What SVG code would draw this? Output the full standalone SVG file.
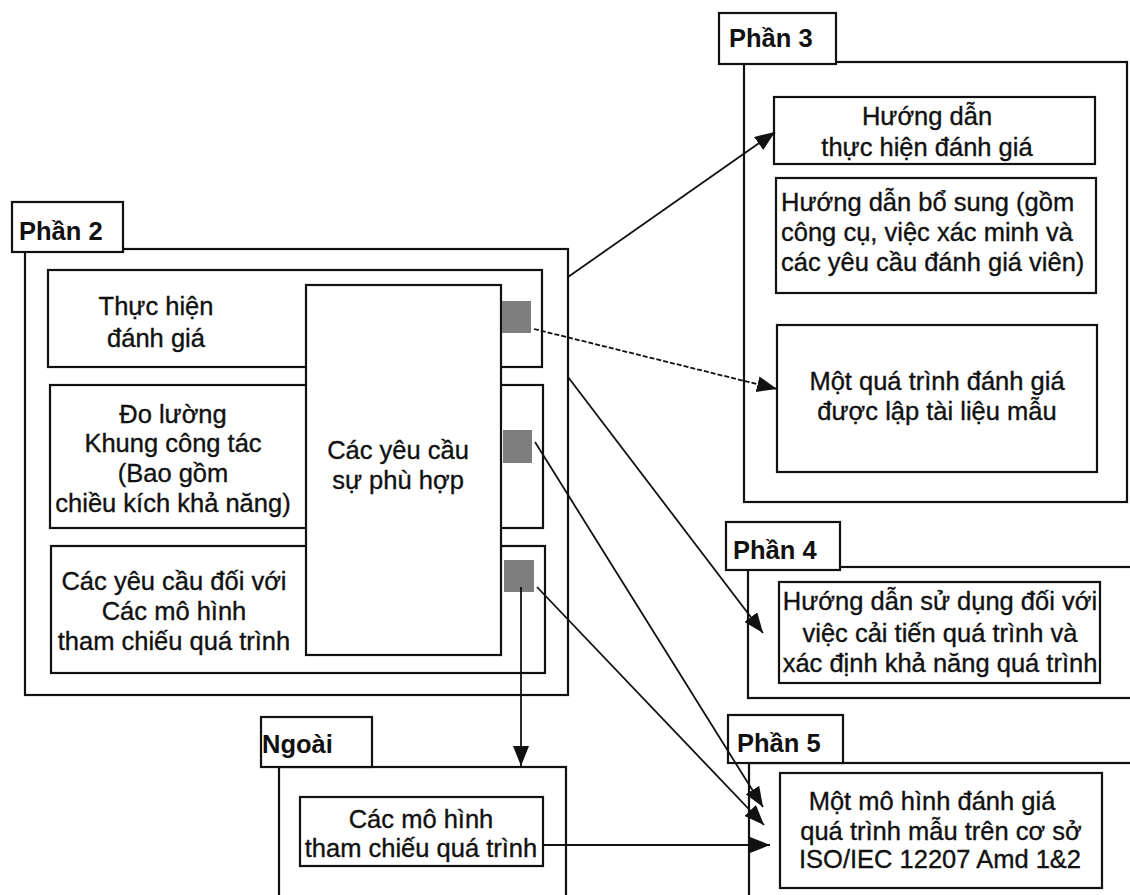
<svg xmlns="http://www.w3.org/2000/svg" width="1130" height="895" viewBox="0 0 1130 895">
<defs>
<style>
.box{fill:#fff;stroke:#111;stroke-width:2.2}
.tab{fill:#fff;stroke:#111;stroke-width:2.2}
.sq{fill:#7e7e7e;stroke:none}
.t{font-family:"Liberation Sans",Arial,sans-serif;font-size:25.5px;fill:#111;stroke:#111;stroke-width:0.35;text-anchor:middle}
.tl{font-family:"Liberation Sans",Arial,sans-serif;font-size:25.5px;fill:#111;stroke:#111;stroke-width:0.35}
.h{font-family:"Liberation Sans",Arial,sans-serif;font-size:25.5px;font-weight:bold;fill:#111}
.c{fill:none;stroke:#111;stroke-width:1.8}
.d{fill:none;stroke:#111;stroke-width:1.8;stroke-dasharray:5 2}
</style>
<marker id="ah" markerUnits="userSpaceOnUse" markerWidth="21" markerHeight="16" refX="20" refY="8" orient="auto">
<path d="M0,0 L20,8 L0,16 z" fill="#111"/>
</marker>
</defs>
<rect width="1130" height="895" fill="#fff"/>

<g id="phan2">
<rect class="box" x="25" y="249" width="543" height="446"/>
<rect class="tab" x="12" y="202" width="111" height="50"/>
<text class="h" x="19" y="240">Phần 2</text>
</g>
<g id="thuc-hien">
<rect class="box" x="48" y="270" width="494" height="97"/>
<text class="t" x="156" y="315">Thực hiện</text>
<text class="t" x="156" y="347">đánh giá</text>
</g>
<g id="do-luong">
<rect class="box" x="50" y="385" width="493" height="143"/>
<text class="t" x="173" y="423">Đo lường</text>
<text class="t" x="173" y="452">Khung công tác</text>
<text class="t" x="173" y="482">(Bao gồm</text>
<text class="t" x="173" y="512">chiều kích khả năng)</text>
</g>
<g id="yeu-cau-mo-hinh">
<rect class="box" x="51" y="546" width="494" height="127"/>
<text class="t" x="174" y="590">Các yêu cầu đối với</text>
<text class="t" x="174" y="620">Các mô hình</text>
<text class="t" x="174" y="650">tham chiếu quá trình</text>
</g>
<g id="phu-hop">
<rect class="box" x="306" y="285" width="195" height="370"/>
<text class="t" x="398" y="459">Các yêu cầu</text>
<text class="t" x="398" y="489">sự phù hợp</text>
</g>
<g id="squares">
<rect class="sq" x="502" y="301" width="29" height="32"/>
<rect class="sq" x="503" y="430" width="29" height="33"/>
<rect class="sq" x="504" y="560" width="30" height="32"/>
</g>

<g id="phan3">
<rect class="box" x="744" y="62" width="383" height="440"/>
<rect class="tab" x="719" y="13" width="117" height="51"/>
<text class="h" x="729" y="47">Phần 3</text>
</g>
<g id="huong-dan-thuc-hien">
<rect class="box" x="774" y="97" width="321" height="67"/>
<text class="t" x="927" y="125">Hướng dẫn</text>
<text class="t" x="927" y="156">thực hiện đánh giá</text>
</g>
<g id="huong-dan-bo-sung">
<rect class="box" x="776" y="178" width="320" height="115"/>
<text class="tl" x="781" y="211">Hướng dẫn bổ sung (gồm</text>
<text class="tl" x="781" y="241">công cụ, việc xác minh và</text>
<text class="tl" x="781" y="271">các yêu cầu đánh giá viên)</text>
</g>
<g id="qua-trinh-mau">
<rect class="box" x="777" y="325" width="320" height="147"/>
<text class="t" x="937" y="390">Một quá trình đánh giá</text>
<text class="t" x="937" y="420">được lập tài liệu mẫu</text>
</g>

<g id="phan4">
<rect class="box" x="748" y="567" width="400" height="131"/>
<rect class="tab" x="726" y="522" width="114" height="48"/>
<text class="h" x="733" y="559">Phần 4</text>
</g>
<g id="huong-dan-su-dung">
<rect class="box" x="779" y="582" width="321" height="101"/>
<text class="t" x="940" y="610">Hướng dẫn sử dụng đối với</text>
<text class="t" x="940" y="642">việc cải tiến quá trình và</text>
<text class="t" x="940" y="672">xác định khả năng quá trình</text>
</g>

<g id="phan5">
<rect class="box" x="749" y="763" width="400" height="150"/>
<rect class="tab" x="728" y="715" width="115" height="48"/>
<text class="h" x="737" y="752">Phần 5</text>
</g>
<g id="mo-hinh-danh-gia">
<rect class="box" x="780" y="773" width="322" height="115"/>
<text class="t" x="932" y="810">Một mô hình đánh giá</text>
<text class="t" x="941" y="840">quá trình mẫu trên cơ sở</text>
<text class="t" x="940" y="868">ISO/IEC 12207 Amd 1&amp;2</text>
</g>

<g id="ngoai">
<rect class="box" x="279" y="767" width="287" height="150"/>
<rect class="tab" x="261" y="717" width="111" height="50"/>
<text class="h" x="262" y="753">Ngoài</text>
</g>
<g id="mo-hinh-tham-chieu">
<rect class="box" x="300" y="797" width="243" height="69"/>
<text class="t" x="421" y="828">Các mô hình</text>
<text class="t" x="421" y="857">tham chiếu quá trình</text>
</g>

<g id="connectors">
<line class="c" x1="568" y1="277" x2="775" y2="132" marker-end="url(#ah)"/>
<line class="d" x1="534" y1="329" x2="777" y2="389" marker-end="url(#ah)"/>
<line class="c" x1="568" y1="377" x2="763" y2="633" marker-end="url(#ah)"/>
<line class="c" x1="535" y1="442" x2="763" y2="807" marker-end="url(#ah)"/>
<line class="c" x1="537" y1="587" x2="764" y2="825" marker-end="url(#ah)"/>
<line class="c" x1="521" y1="587" x2="521" y2="766" marker-end="url(#ah)"/>
<line class="c" x1="543" y1="845" x2="770" y2="845" marker-end="url(#ah)"/>
</g>
</svg>
